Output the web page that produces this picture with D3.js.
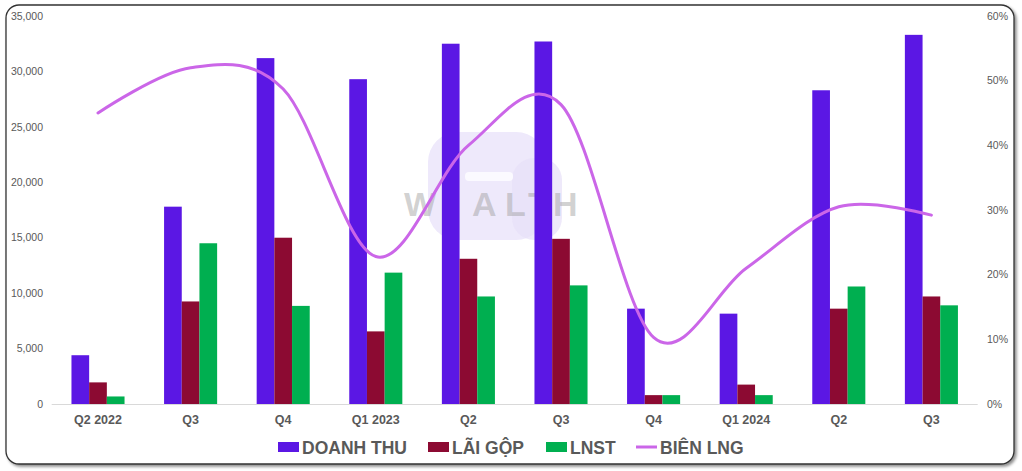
<!DOCTYPE html>
<html><head><meta charset="utf-8">
<script src="https://cdn.jsdelivr.net/npm/d3@7"></script>
<style>html,body{margin:0;padding:0;background:#fff;}svg{display:block;}</style>
</head><body>
<svg id="chart" width="1022" height="471"></svg>
<script>
const categories = ["Q2 2022","Q3","Q4","Q1 2023","Q2","Q3","Q4","Q1 2024","Q2","Q3"];
const doanhThu = [4400, 17800, 31200, 29300, 32500, 32700, 8600, 8150, 28300, 33300];
const laiGop   = [1950, 9250, 15000, 6550, 13100, 14900, 800, 1750, 8600, 9700];
const lnst     = [680, 14500, 8850, 11850, 9700, 10700, 800, 800, 10600, 8900];
const bienLng  = [45.0, 52.0, 48.7, 22.8, 40.0, 46.3, 10.3, 21.0, 30.5, 29.2];
const leftTicks = [0, 5000, 10000, 15000, 20000, 25000, 30000, 35000];
const rightTicks = [0, 10, 20, 30, 40, 50, 60];
const seriesNames = ["DOANH THU", "LÃI GỘP", "LNST", "BIÊN LNG"];
const colors = ["#5B17E4", "#8C0A32", "#00AF50", "#CB66E8"];

const svg = d3.select("#chart");
const font = "'Liberation Sans', Arial, sans-serif";

// frame with shadow
const defs = svg.append("defs");
const f = defs.append("filter").attr("id","sh").attr("x","-5%").attr("y","-5%").attr("width","110%").attr("height","115%");
f.append("feDropShadow").attr("dx",2).attr("dy",2).attr("stdDeviation",1.5).attr("flood-color","#000").attr("flood-opacity",0.45);
svg.append("rect").attr("x",6).attr("y",5).attr("width",1008).attr("height",459).attr("rx",13)
  .attr("fill","#fff").attr("stroke","#333").attr("stroke-width",1.3).attr("filter","url(#sh)");

const x0 = 51.7, x1 = 977.7, yTop = 16, yBase = 404;
const x = d3.scaleBand().domain(d3.range(categories.length)).range([x0, x1]).paddingInner(0.427).paddingOuter(0.2135);
const xs = d3.scaleBand().domain([0,1,2]).range([0, x.bandwidth()]);
const yL = d3.scaleLinear().domain([0, 35000]).range([yBase, yTop]);
const yR = d3.scaleLinear().domain([0, 60]).range([yBase, yTop]);

// watermark
const wm = svg.append("g");
wm.append("rect").attr("x",428).attr("y",132).attr("width",118).attr("height",108).attr("rx",30).attr("fill","#eee9fb");
wm.append("rect").attr("x",512).attr("y",158).attr("width",50).attr("height",82).attr("rx",22).attr("fill","#e7e0f8").attr("opacity",0.7);
wm.append("rect").attr("x",465).attr("y",172).attr("width",48).attr("height",9).attr("rx",4).attr("fill","#fbfaff");
wm.append("text").attr("x",404).attr("y",216).attr("font-family",font).attr("font-weight","bold")
  .attr("font-size",34).attr("fill","#9a9a9a").attr("fill-opacity",0.45).text("W");
["A","L","T","H"].forEach((c,i)=>{
  wm.append("text").attr("x",[472,505,528,553][i]).attr("y",216).attr("font-family",font).attr("font-weight","bold")
    .attr("font-size",34).attr("fill","#9a9a9a").attr("fill-opacity",0.45).text(c);
});

// baseline
svg.append("line").attr("x1",x0).attr("x2",x1).attr("y1",yBase+0.5).attr("y2",yBase+0.5).attr("stroke","#d9d9d9").attr("stroke-width",1);

// bars
const series = [doanhThu, laiGop, lnst];
series.forEach((vals, si) => {
  svg.append("g").selectAll("rect").data(vals).join("rect")
    .attr("x", (d,i) => x(i) + xs(si))
    .attr("y", d => yL(d))
    .attr("width", xs.bandwidth())
    .attr("height", d => yBase - yL(d))
    .attr("fill", colors[si]);
});

// line
const line = d3.line().x((d,i) => x(i) + x.bandwidth()/2).y(d => yR(d)).curve(d3.curveCardinal.tension(0));
svg.append("path").datum(bienLng).attr("d", line).attr("fill","none").attr("stroke",colors[3]).attr("stroke-width",3).attr("stroke-linecap","round");

// left axis
svg.append("g").selectAll("text").data(leftTicks).join("text")
  .attr("x", 43).attr("y", d => yL(d)).attr("dy","0.35em").attr("text-anchor","end")
  .attr("font-family",font).attr("font-size",10.5).attr("fill","#595959")
  .text(d => d3.format(",")(d));
// right axis
svg.append("g").selectAll("text").data(rightTicks).join("text")
  .attr("x", 987).attr("y", d => yR(d)).attr("dy","0.35em").attr("text-anchor","start")
  .attr("font-family",font).attr("font-size",10.5).attr("fill","#595959")
  .text(d => d + "%");
// x labels
svg.append("g").selectAll("text").data(categories).join("text")
  .attr("x", (d,i) => x(i) + x.bandwidth()/2).attr("y", 424).attr("text-anchor","middle")
  .attr("font-family",font).attr("font-size",12.5).attr("font-weight","bold").attr("fill","#595959")
  .text(d => d);

// legend
const legX = [278, 428, 546, 636];
const lg = svg.append("g");
seriesNames.forEach((n, i) => {
  if (i < 3) lg.append("rect").attr("x", legX[i]).attr("y", 442).attr("width", 21).attr("height", 10).attr("fill", colors[i]);
  else lg.append("line").attr("x1", legX[i]).attr("x2", legX[i]+21).attr("y1",447).attr("y2",447).attr("stroke",colors[i]).attr("stroke-width",3);
  lg.append("text").attr("x", legX[i] + 24).attr("y", 453.5).attr("font-family",font).attr("font-size",17.5)
    .attr("font-weight","bold").attr("fill","#595959").text(n);
});
</script>
</body></html>
